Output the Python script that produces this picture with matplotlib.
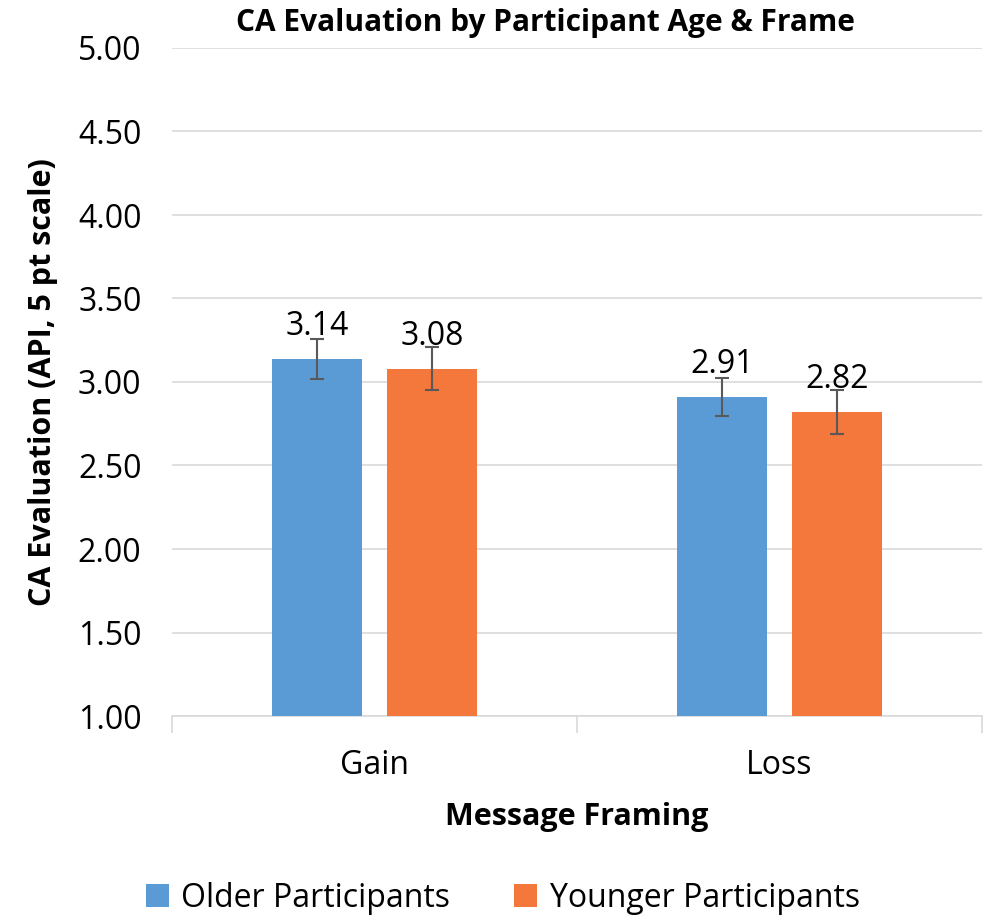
import matplotlib
matplotlib.use("Agg")
import matplotlib.pyplot as plt
import numpy as np

categories = ["Gain", "Loss"]
older = [3.14, 2.91]
younger = [3.08, 2.82]
older_err = [0.12, 0.115]
younger_err = [0.13, 0.13]
yticks = [1.00, 1.50, 2.00, 2.50, 3.00, 3.50, 4.00, 4.50, 5.00]

plt.rcParams['font.family'] = ['Open Sans', 'DejaVu Sans']

fig = plt.figure(figsize=(9.9, 9.21), dpi=100)
ax = fig.add_axes([172/990, 1-716/921, (982-172)/990, (716-48)/921])

x = np.arange(len(categories))
w = 0.222
off = 0.142
blue = "#5B9BD5"
orange = "#F4773C"
b1 = ax.bar(x - off, [v - 1 for v in older], w, bottom=1, color=blue, label="Older Participants", zorder=3)
b2 = ax.bar(x + off, [v - 1 for v in younger], w, bottom=1, color=orange, label="Younger Participants", zorder=3)
ax.errorbar(x - off, older, yerr=older_err, fmt="none", ecolor="#595959", elinewidth=1.5, capsize=5, capthick=1.5, zorder=4)
ax.errorbar(x + off, younger, yerr=younger_err, fmt="none", ecolor="#595959", elinewidth=1.5, capsize=5, capthick=1.5, zorder=4)

for xs, vals in ((x - off, older), (x + off, younger)):
    for xi, v in zip(xs, vals):
        ax.annotate(f"{v:.2f}", (xi, v), xytext=(0, 17), textcoords="offset points",
                    ha="center", va="baseline", fontsize=23, zorder=5)

ax.set_ylim(1, 5)
ax.set_xlim(-0.5, 1.5)
ax.set_yticks(yticks)
ax.set_yticklabels([f"{t:.2f}" for t in yticks], fontsize=23)
ax.yaxis.grid(True, color="#D9D9D9", linewidth=1.2, zorder=0)
ax.set_axisbelow(True)
ax.tick_params(axis="y", length=0, pad=22)
ax.set_xticks(x)
ax.set_xticklabels(categories, fontsize=23)
ax.tick_params(axis="x", length=0, pad=24)
ax.set_xticks([-0.5, 0.5, 1.5], minor=True)
ax.tick_params(axis="x", which="minor", length=12, color="#D9D9D9", width=1.2)
for s in ["left", "right", "top"]:
    ax.spines[s].set_visible(False)
ax.spines["bottom"].set_color("#D9D9D9")
ax.spines["bottom"].set_linewidth(1.2)

ax.set_xlabel("Message Framing", fontsize=22, fontweight="bold", labelpad=14)
ax.set_ylabel("CA Evaluation (API, 5 pt scale)", fontsize=22, fontweight="bold", labelpad=14)
fig.text(545/990, 1-23/921, "CA Evaluation by Participant Age & Frame", ha="center", va="center", fontsize=21.5, fontweight="bold")

fig.legend(handles=[b1, b2], loc="center", bbox_to_anchor=(503/990, 1-898/921), ncol=2, frameon=False,
           fontsize=23, handlelength=0.7, handleheight=0.7, columnspacing=2.0, handletextpad=0.4)

fig.savefig("out.png", dpi=100)
